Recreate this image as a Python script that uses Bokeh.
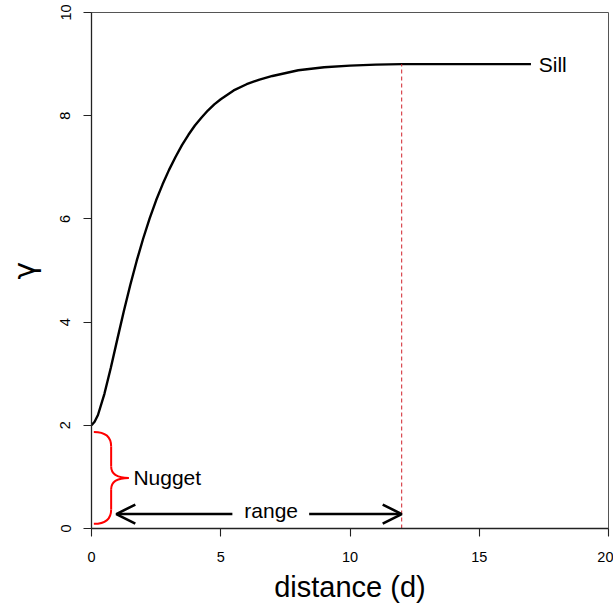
from bokeh.plotting import figure
from bokeh.models import ColumnDataSource, FixedTicker, Arrow, OpenHead, Range1d
from bokeh.core.properties import value
from bokeh.embed import file_html
from bokeh.resources import INLINE

# ---- data ----
dist = [0, 0.12, 0.25, 0.5, 0.75, 1.0, 1.25, 1.5, 1.75, 2.0, 2.25, 2.5, 2.75, 3.0, 3.25, 3.5,
        3.75, 4.0, 4.25, 4.5, 4.75, 5.0, 5.5, 6.0, 6.5, 7.0, 8.0, 9.0, 10.0, 11.0, 12.0, 17.0]
gamma = [2.0, 2.07, 2.20, 2.61, 3.12, 3.67, 4.21, 4.72, 5.19, 5.62, 6.01, 6.36, 6.67, 6.95, 7.20, 7.43,
         7.63, 7.81, 7.96, 8.10, 8.22, 8.32, 8.49, 8.61, 8.70, 8.77, 8.88, 8.94, 8.97, 8.99, 9.0, 9.0]

x_ticks = [0, 5, 10, 15, 20]
y_ticks = [0, 2, 4, 6, 8, 10]

sill = 9.0
nugget_top = 1.87
nugget_bottom = 0.09
nugget_mid = 0.98
range_x = 12.0
range_start = 0.96
range_y = 0.28
range_gap = [5.45, 8.42]

label_text = ["Sill", "Nugget", "range"]
label_x = [17.3, 1.62, 6.95]
label_y = [9.0, 0.98, 0.34]
label_align = ["left", "left", "center"]

FONT = "Liberation Sans"

p = figure(width=613, height=607, output_backend="svg", toolbar_location=None,
           x_range=Range1d(0, 20), y_range=Range1d(0, 10),
           min_border_left=91, min_border_right=5, min_border_top=12, min_border_bottom=79)
p.xgrid.visible = False
p.ygrid.visible = False
p.background_fill_color = "white"
p.border_fill_color = "white"
p.outline_line_color = "#555555"
p.outline_line_width = 1

for ax, ticks in ((p.xaxis[0], x_ticks), (p.yaxis[0], y_ticks)):
    ax.ticker = FixedTicker(ticks=ticks)
    ax.minor_tick_line_color = None
    ax.major_tick_in = 0
    ax.major_tick_out = 8
    ax.major_tick_line_color = "#222222"
    ax.axis_line_color = "#222222"
    ax.axis_line_width = 1.3
    ax.major_tick_line_width = 1.1
    ax.major_label_text_font = FONT
    ax.major_label_text_font_size = "14.5px"
    ax.major_label_text_color = "black"
    ax.axis_label_text_font = FONT
    ax.axis_label_text_font_style = "normal"
    ax.axis_label_text_color = "black"

p.xaxis.axis_label = "distance (d)"
p.xaxis.axis_label_text_font_size = "29px"
p.xaxis.major_label_standoff = 15
p.xaxis.axis_label_standoff = 6

p.yaxis.axis_label = "γ"
p.yaxis.axis_label_text_font = "DejaVu Sans"
p.yaxis.axis_label_text_font_size = "30px"
p.yaxis.major_label_orientation = "vertical"
p.yaxis.major_label_standoff = 13
p.yaxis.axis_label_standoff = 16

# semivariogram curve
p.line(dist, gamma, line_color="black", line_width=2.4)

# range marker (dashed vertical)
p.segment(x0=[range_x], y0=[0], x1=[range_x], y1=[sill], line_color="#d0202a",
          line_width=1, line_dash="4 3")

# nugget brace (red)
x0b = nugget_bottom
xm = 0.76
tip = 1.44
bend = 0.28
mb = 0.22
p.quadratic(x0=[x0b, xm, xm, xm], y0=[nugget_top, nugget_mid + mb, nugget_mid - mb, nugget_bottom + bend],
            x1=[xm, tip, tip, x0b], y1=[nugget_top - bend, nugget_mid, nugget_mid, nugget_bottom],
            cx=[xm, xm, xm, xm], cy=[nugget_top, nugget_mid, nugget_mid, nugget_bottom],
            line_color="red", line_width=2)
p.segment(x0=[xm, xm], y0=[nugget_top - bend, nugget_mid - mb],
          x1=[xm, xm], y1=[nugget_mid + mb, nugget_bottom + bend],
          line_color="red", line_width=2)

# range arrows
p.add_layout(Arrow(x_start=range_gap[0], y_start=range_y, x_end=range_start, y_end=range_y,
                   line_color="black", line_width=2.6,
                   end=OpenHead(size=19, line_color="black", line_width=2.6)))
p.add_layout(Arrow(x_start=range_gap[1], y_start=range_y, x_end=range_x, y_end=range_y,
                   line_color="black", line_width=2.6,
                   end=OpenHead(size=19, line_color="black", line_width=2.6)))

src = ColumnDataSource(dict(x=label_x, y=label_y, t=label_text, a=label_align))
p.text(x="x", y="y", text="t", text_align="a", text_baseline="middle", source=src,
       text_font=value(FONT), text_font_size="21px", text_color="black")

open("out.html", "w").write(file_html(p, INLINE))
